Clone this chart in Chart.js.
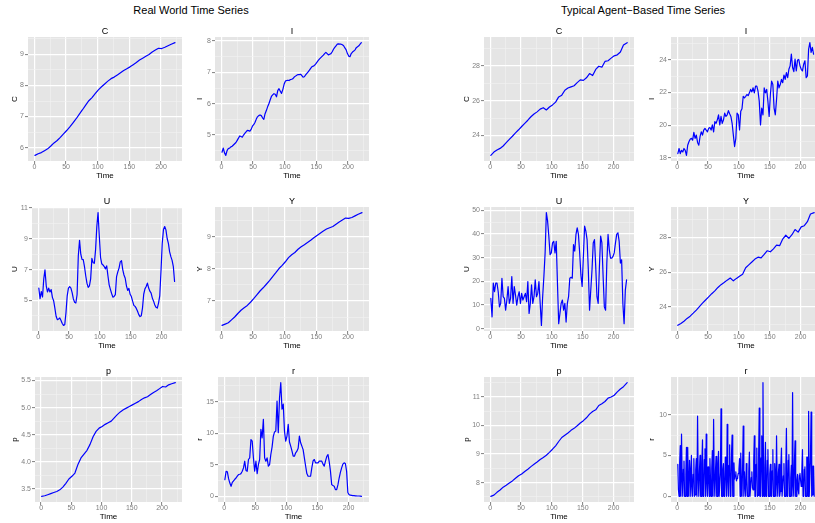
<!DOCTYPE html>
<html>
<head>
<meta charset="utf-8">
<script src="https://cdn.jsdelivr.net/npm/chart.js@4.4.1/dist/chart.umd.min.js"></script>
<style>
  html, body { margin: 0; padding: 0; background: #fff; overflow: hidden; width: 815px; height: 523px; }
  body { position: relative; font-family: "Liberation Sans", Arial, sans-serif; }
  canvas { position: absolute; }
  .main { position: absolute; top: 3px; font-size: 11px; line-height: 14px; color: #000;
          white-space: nowrap; transform: translateX(-50%); }
</style>
</head>
<body>
<div class="main" style="left:191px">Real World Time Series</div>
<div class="main" style="left:643px">Typical Agent&#8722;Based Time Series</div>
<script>
// ---- Time index (quarters) ----
const tQ5 = [1,6,11,16,21,26,31,36,41,46,51,56,61,66,71,76,81,86,91,96,
  101,106,111,116,121,126,131,136,141,146,151,156,161,166,171,176,181,186,191,196,
  201,206,211,216,222];
const tQ2 = [1,3,5,7,9,11,13,15,17,19,21,23,25,27,29,31,33,35,37,39,
  41,43,45,47,49,51,53,55,57,59,61,63,65,67,69,71,73,75,77,79,
  81,83,85,87,89,91,93,95,97,99,101,103,105,107,109,111,113,115,117,119,
  121,123,125,127,129,131,133,135,137,139,141,143,145,147,149,151,153,155,157,159,
  161,163,165,167,169,171,173,175,177,179,181,183,185,187,189,191,193,195,197,199,
  201,203,205,207,209,211,213,215,217,219,221];
const tQ1 = [1,2,3,4,5,6,7,8,9,10,11,12,13,14,15,16,17,18,19,20,
  21,22,23,24,25,26,27,28,29,30,31,32,33,34,35,36,37,38,39,40,
  41,42,43,44,45,46,47,48,49,50,51,52,53,54,55,56,57,58,59,60,
  61,62,63,64,65,66,67,68,69,70,71,72,73,74,75,76,77,78,79,80,
  81,82,83,84,85,86,87,88,89,90,91,92,93,94,95,96,97,98,99,100,
  101,102,103,104,105,106,107,108,109,110,111,112,113,114,115,116,117,118,119,120,
  121,122,123,124,125,126,127,128,129,130,131,132,133,134,135,136,137,138,139,140,
  141,142,143,144,145,146,147,148,149,150,151,152,153,154,155,156,157,158,159,160,
  161,162,163,164,165,166,167,168,169,170,171,172,173,174,175,176,177,178,179,180,
  181,182,183,184,185,186,187,188,189,190,191,192,193,194,195,196,197,198,199,200,
  201,202,203,204,205,206,207,208,209,210,211,212,213,214,215,216,217,218,219,220,
  221,222];

// ---- Real world series ----
const realC = [5.75,5.80,5.84,5.90,5.96,6.05,6.15,6.23,6.33,6.44,
  6.55,6.67,6.80,6.93,7.08,7.22,7.37,7.51,7.61,7.74,
  7.86,7.96,8.05,8.14,8.22,8.27,8.34,8.41,8.48,8.54,
  8.60,8.67,8.74,8.82,8.88,8.94,9.00,9.08,9.14,9.20,
  9.19,9.23,9.28,9.33,9.38];
const realI = [4.45,4.58,4.43,4.35,4.50,4.57,4.58,4.62,4.64,4.68,
  4.72,4.76,4.83,4.90,4.97,4.95,4.93,5.00,5.05,5.10,
  5.15,5.14,5.12,5.18,5.28,5.33,5.40,5.50,5.58,5.62,
  5.64,5.62,5.55,5.50,5.68,5.78,5.90,6.00,6.12,6.23,
  6.28,6.32,6.30,6.22,6.42,6.48,6.40,6.33,6.45,6.62,
  6.72,6.74,6.75,6.74,6.77,6.78,6.80,6.85,6.88,6.91,
  6.93,6.93,6.94,6.90,6.85,6.86,6.92,6.97,7.02,7.07,
  7.13,7.18,7.20,7.22,7.27,7.33,7.38,7.43,7.47,7.51,
  7.55,7.60,7.64,7.60,7.56,7.58,7.60,7.66,7.74,7.80,
  7.85,7.90,7.91,7.90,7.90,7.88,7.85,7.78,7.72,7.60,
  7.52,7.50,7.60,7.65,7.68,7.72,7.79,7.82,7.85,7.90,
  7.95];
const realU = [5.80,5.12,5.58,5.22,6.40,6.98,5.95,5.55,5.80,5.55,
  5.70,5.20,4.98,4.50,3.97,3.75,3.80,3.86,3.69,3.50,
  3.38,3.42,4.20,5.30,5.80,5.90,5.80,5.50,5.10,4.88,
  4.83,5.37,7.90,8.90,8.00,7.67,7.65,7.20,6.60,6.12,
  5.85,5.95,6.40,7.73,7.45,7.41,8.30,9.80,10.70,9.20,
  7.80,7.38,7.30,7.20,7.05,7.24,6.60,6.01,5.72,5.45,
  5.21,5.26,5.37,6.55,6.85,7.10,7.50,7.58,7.00,6.65,
  6.44,5.95,5.65,5.78,5.40,5.25,4.95,4.68,4.61,4.48,
  4.30,4.08,3.95,4.00,4.50,5.40,5.75,5.90,6.12,5.80,
  5.60,5.47,5.15,4.95,4.70,4.55,4.50,4.83,5.30,6.90,
  8.70,9.60,9.80,9.58,9.02,8.70,8.15,7.84,7.60,7.20,
  6.23];
const realY = [6.24,6.28,6.32,6.41,6.50,6.61,6.71,6.79,6.86,6.96,
  7.07,7.19,7.31,7.41,7.52,7.63,7.76,7.88,8.01,8.11,
  8.22,8.35,8.44,8.51,8.61,8.69,8.75,8.82,8.89,8.97,
  9.04,9.11,9.18,9.24,9.28,9.32,9.39,9.46,9.52,9.58,
  9.57,9.60,9.65,9.70,9.75];
const realP = [3.36,3.37,3.39,3.41,3.43,3.45,3.48,3.53,3.60,3.68,
  3.73,3.79,3.95,4.07,4.14,4.21,4.32,4.46,4.56,4.62,
  4.65,4.69,4.72,4.75,4.81,4.87,4.92,4.96,4.99,5.02,
  5.05,5.08,5.11,5.15,5.18,5.20,5.24,5.28,5.31,5.35,
  5.39,5.38,5.42,5.44,5.46];
const realR = [2.65,3.97,3.87,2.80,2.10,1.59,2.20,2.45,2.70,2.90,
  3.20,3.45,3.50,3.60,3.97,4.50,5.56,4.10,3.97,5.83,
  6.09,9.00,8.74,6.09,3.97,5.56,3.60,5.03,5.83,10.60,
  9.27,12.19,6.09,5.56,6.09,4.77,5.03,6.62,7.80,9.50,
  10.20,10.33,15.10,10.07,15.60,18.00,13.80,14.60,10.30,8.74,
  9.54,11.40,8.60,7.95,7.20,6.36,6.36,6.89,7.15,7.60,
  9.54,8.48,7.95,7.40,6.09,4.80,3.60,3.18,3.18,3.18,
  4.50,5.60,5.83,5.30,5.30,5.30,5.56,5.56,5.56,5.10,
  4.77,5.56,6.30,6.62,5.50,3.97,1.85,1.70,1.59,1.06,
  1.06,1.80,2.90,3.80,4.50,5.10,5.30,5.20,3.97,0.60,
  0.26,0.18,0.16,0.12,0.11,0.08,0.06,0.05,0.05,0.04,
  0.00];

// ---- Agent-based model series ----
const abmC = [22.86,23.05,23.17,23.26,23.40,23.59,23.78,23.96,24.15,24.33,
  24.52,24.70,24.88,25.08,25.24,25.36,25.52,25.60,25.47,25.64,
  25.76,25.92,26.22,26.32,26.60,26.73,26.80,26.86,27.04,27.20,
  27.17,27.32,27.56,27.45,27.80,27.98,27.93,28.26,28.30,28.45,
  28.58,28.64,28.80,29.20,29.34];
const abmI = [18.27,18.58,18.27,18.47,18.37,18.58,18.47,18.16,18.78,18.99,
  19.15,19.20,19.09,19.57,19.20,19.40,18.95,18.78,19.30,19.60,
  19.40,19.71,19.81,19.70,19.60,19.81,19.86,19.71,20.02,19.60,
  20.23,20.12,20.33,20.64,20.02,20.54,20.12,20.33,20.74,20.54,
  20.64,20.89,20.70,20.54,20.12,19.40,18.70,19.20,20.74,20.64,
  19.71,20.85,21.01,21.77,21.67,21.77,21.88,21.81,21.98,22.19,
  22.04,22.29,21.98,22.39,22.39,22.08,21.46,20.02,21.05,20.64,
  22.29,21.98,22.19,21.46,20.54,21.88,22.70,22.49,21.05,20.64,
  21.57,22.70,22.29,22.49,22.80,22.60,23.07,22.80,23.22,22.91,
  23.42,23.63,24.35,23.53,23.28,24.04,23.32,23.98,24.02,23.63,
  23.42,23.32,23.73,23.94,22.91,23.01,24.66,25.05,24.45,24.76,
  24.35];
const abmU = [12.8,5.0,19.2,15.6,19.2,19.2,15.6,9.2,10.7,21.3,
  13.5,12.8,7.8,12.1,17.8,10.7,12.8,22.0,10.7,17.8,
  14.2,9.9,13.5,15.6,10.7,14.9,12.1,13.5,14.9,11.4,
  19.9,6.4,10.7,18.5,10.7,13.5,20.6,13.5,14.9,19.9,
  10.7,1.4,13.5,22.0,32.0,49.0,45.5,39.1,31.3,32.0,
  36.2,36.9,32.0,36.9,19.2,2.1,6.4,10.7,12.1,7.8,
  10.7,2.8,10.7,13.5,21.3,21.7,21.3,35.5,32.7,39.8,
  42.6,39.8,32.0,22.7,17.8,30.5,43.3,41.2,37.6,24.9,
  7.8,16.3,24.9,36.2,37.6,26.3,13.5,10.7,26.3,39.1,
  36.2,22.0,9.2,7.8,27.7,39.8,33.4,29.8,29.8,30.5,
  32.0,36.2,39.8,40.5,36.9,27.7,29.1,10.7,2.1,16.3,
  20.6];
const abmY = [22.94,23.05,23.18,23.34,23.47,23.64,23.82,24.02,24.22,24.40,
  24.58,24.76,24.92,25.12,25.28,25.40,25.54,25.66,25.50,25.64,
  25.76,25.88,26.25,26.42,26.58,26.75,26.86,26.82,27.02,27.23,
  27.17,27.34,27.55,27.52,27.90,28.12,27.94,28.15,28.45,28.30,
  28.60,28.67,28.90,29.34,29.42];
const abmP = [7.52,7.56,7.66,7.74,7.84,7.91,7.99,8.06,8.15,8.24,
  8.30,8.39,8.47,8.56,8.64,8.72,8.81,8.88,8.96,9.06,
  9.17,9.29,9.44,9.58,9.66,9.74,9.83,9.90,9.99,10.09,
  10.17,10.27,10.40,10.49,10.55,10.70,10.76,10.84,10.96,11.00,
  11.06,11.18,11.28,11.36,11.50];
const abmR = [3.9,0.8,0,4.1,6.2,0,7.6,2.2,0,3.3,
  4.3,0,0,2.6,6.0,0,6.0,2.0,0,4.4,
  3.1,0,5.0,1.5,0,2.7,4.6,0,0.2,3.2,
  4.6,0,9.8,2.4,0,3.0,5.0,0,0,4.0,
  6.9,0,0.3,4.5,5.8,0,7.6,1.8,0,3.6,
  2.7,0,4.6,2.1,0,3.4,5.6,0,9.4,2.2,
  0,3.1,4.9,0,0,4.0,5.5,0,0,2.9,
  10.7,0,0,3.3,4.0,0,0.4,4.8,3.0,0,
  8.8,2.1,0,3.8,6.3,0,0.2,5.1,7.5,0,
  0,4.1,2.1,2.6,3.0,1.9,2.2,2.4,2.8,3.3,
  4.6,0,5.3,1.4,0,3.6,8.6,0,3.0,1.2,
  0,4.0,2.1,0,0,3.0,5.4,0,0,2.3,
  3.0,1.0,0.8,4.3,7.4,0,0,3.9,5.9,0,
  0.1,5.2,10.8,0,0,4.7,7.4,0,13.9,2.0,
  0,3.5,6.6,0,0.3,4.4,5.7,0,0,2.8,
  3.9,0,0,3.1,5.7,0,0,4.0,2.6,0,
  7.4,1.7,0,2.9,3.9,0,0.6,3.8,5.9,0,
  0,2.5,4.0,0,0,3.4,8.3,0,0.2,4.4,
  5.1,0,0,2.2,3.8,0,12.7,1.3,0,4.3,
  6.8,0,0,2.0,2.7,0.8,0.3,2.6,2.8,1.9,
  1.2,3.0,5.7,0,0.5,3.3,3.6,0,0,4.8,
  4.8,0,10.4,0,0,4.9,10.3,0,0.2,3.7,
  3.7,0];

// ---- Axis breaks ----
const xTicks = [0, 50, 100, 150, 200];
const realCTicks = [6, 7, 8, 9];
const realITicks = [5, 6, 7, 8];
const realUTicks = [5, 7, 9, 11];
const realYTicks = [7, 8, 9];
const realPTicks = [3.5, 4.0, 4.5, 5.0, 5.5];
const realRTicks = [0, 5, 10, 15];
const abmCTicks = [24, 26, 28];
const abmITicks = [18, 20, 22, 24];
const abmUTicks = [0, 10, 20, 30, 40, 50];
const abmYTicks = [24, 26, 28];
const abmPTicks = [8, 9, 10, 11];
const abmRTicks = [0, 5, 10];

// ---- Panel layout (page pixels) ----
const ROWS = [{T: 37, B: 161}, {T: 207, B: 331}, {T: 377, B: 502}];
const panels = [
  {name: 'C', t: tQ5, v: realC, ticks: realCTicks, dec: 0, row: 0, ytx: 15,  L: 28,  R: 182},
  {name: 'I', t: tQ2, v: realI, ticks: realITicks, dec: 0, row: 0, ytx: 200, L: 215, R: 369},
  {name: 'C', t: tQ5, v: abmC,  ticks: abmCTicks,  dec: 0, row: 0, ytx: 467, L: 484, R: 634},
  {name: 'I', t: tQ2, v: abmI,  ticks: abmITicks,  dec: 0, row: 0, ytx: 652, L: 671, R: 821},
  {name: 'U', t: tQ2, v: realU, ticks: realUTicks, dec: 0, row: 1, ytx: 15,  L: 32,  R: 182},
  {name: 'Y', t: tQ5, v: realY, ticks: realYTicks, dec: 0, row: 1, ytx: 200, L: 215, R: 369},
  {name: 'U', t: tQ2, v: abmU,  ticks: abmUTicks,  dec: 0, row: 1, ytx: 467, L: 484, R: 634},
  {name: 'Y', t: tQ5, v: abmY,  ticks: abmYTicks,  dec: 0, row: 1, ytx: 652, L: 671, R: 821},
  {name: 'p', t: tQ5, v: realP, ticks: realPTicks, dec: 1, row: 2, ytx: 15,  L: 35,  R: 182},
  {name: 'r', t: tQ2, v: realR, ticks: realRTicks, dec: 0, row: 2, ytx: 200, L: 218, R: 369},
  {name: 'p', t: tQ5, v: abmP,  ticks: abmPTicks,  dec: 0, row: 2, ytx: 467, L: 484, R: 634},
  {name: 'r', t: tQ1, v: abmR,  ticks: abmRTicks,  dec: 0, row: 2, ytx: 652, L: 671, R: 821}
];

const FONT = '"Liberation Sans", Arial, sans-serif';
Chart.defaults.font.family = FONT;

const PANEL_BG = '#E5E5E5';
const GRID_MAJOR = '#FFFFFF';
const GRID_MINOR = '#F2F2F2';
const TICK_GREY = '#7F7F7F';
const TOP_SPACE = 14, X_SPACE = 20, RIGHT_PAD = 2;

// expanded range (5% each side), as ggplot does
function expand(values) {
  const lo = Math.min(...values), hi = Math.max(...values), pad = (hi - lo) * 0.05;
  return [lo - pad, hi + pad];
}
const [xMin, xMax] = expand(tQ1);

// major breaks plus minor breaks halfway between them
function breaksWithMinor(majors, lo, hi) {
  const step = majors[1] - majors[0];
  const out = majors.map(v => ({value: v, isMinor: false}));
  const minors = majors.map(v => v - step / 2).concat([majors[majors.length - 1] + step / 2]);
  minors.forEach(v => out.push({value: v, isMinor: true}));
  return out.filter(t => t.value >= lo && t.value <= hi).sort((a, b) => a.value - b.value);
}

const panelDecor = {
  id: 'panelDecor',
  beforeDraw(chart) {
    const {ctx, chartArea: a} = chart;
    ctx.save();
    ctx.fillStyle = PANEL_BG;
    ctx.fillRect(a.left, a.top, a.right - a.left, a.bottom - a.top);
    ctx.restore();
  },
  afterDraw(chart, args, opts) {
    const {ctx, chartArea: a} = chart;
    ctx.save();
    ctx.font = '9px ' + FONT;
    ctx.fillStyle = '#000';
    ctx.textAlign = 'center';
    ctx.textBaseline = 'middle';
    ctx.fillText(opts.text, (a.left + a.right) / 2, a.top - 5.5);
    ctx.restore();
  }
};

function gridStyle() {
  return {
    color: c => (c.tick && c.tick.isMinor) ? GRID_MINOR : GRID_MAJOR,
    lineWidth: c => (c.tick && c.tick.isMinor) ? 0.6 : 1.2,
    tickColor: c => (c.tick && c.tick.isMinor) ? 'rgba(0,0,0,0)' : TICK_GREY,
    tickLength: 3,
    tickWidth: 1,
    drawTicks: true
  };
}

panels.forEach(p => {
  const row = ROWS[p.row];
  const cx = Math.round(p.ytx - 5);
  const cy = row.T - TOP_SPACE;
  const yw = p.L - cx;
  const cw = p.R - cx + RIGHT_PAD;
  const ch = (row.B - row.T) + TOP_SPACE + X_SPACE;

  const canvas = document.createElement('canvas');
  canvas.width = cw; canvas.height = ch;
  canvas.style.left = cx + 'px'; canvas.style.top = cy + 'px';
  canvas.style.width = cw + 'px'; canvas.style.height = ch + 'px';
  document.body.appendChild(canvas);

  const [yMin, yMax] = expand(p.v);
  const xBreaks = breaksWithMinor(xTicks, xMin, xMax);
  const yBreaks = breaksWithMinor(p.ticks, yMin, yMax);

  new Chart(canvas, {
    type: 'line',
    data: {
      datasets: [{
        data: p.t.map((t, i) => ({x: t, y: p.v[i]})),
        borderColor: '#0000FF',
        borderWidth: 1.2,
        pointRadius: 0,
        tension: 0,
        fill: false,
        borderJoinStyle: 'round',
        borderCapStyle: 'round'
      }]
    },
    options: {
      responsive: false,
      animation: false,
      devicePixelRatio: 1,
      layout: {padding: {top: TOP_SPACE, right: RIGHT_PAD, left: 0, bottom: 0}},
      plugins: {
        legend: {display: false},
        tooltip: {enabled: false},
        panelDecor: {text: p.name}
      },
      scales: {
        x: {
          type: 'linear',
          min: xMin, max: xMax,
          afterBuildTicks: s => { s.ticks = xBreaks.map(b => ({...b})); },
          afterFit: s => { s.height = X_SPACE; },
          border: {display: false},
          grid: gridStyle(),
          ticks: {
            autoSkip: false, maxRotation: 0, padding: 0,
            color: TICK_GREY, font: {size: 7, lineHeight: 1},
            callback: (v, i, ticks) => ticks[i].isMinor ? '' : String(v)
          },
          title: {display: true, text: 'Time', color: '#000', padding: 0,
                  font: {size: 8, lineHeight: 1.2}}
        },
        y: {
          type: 'linear',
          min: yMin, max: yMax,
          afterBuildTicks: s => { s.ticks = yBreaks.map(b => ({...b})); },
          afterFit: s => { s.width = yw; },
          border: {display: false},
          grid: gridStyle(),
          ticks: {
            autoSkip: false, padding: 1,
            color: TICK_GREY, font: {size: 7, lineHeight: 1},
            callback: (v, i, ticks) => ticks[i].isMinor ? '' : Number(v).toFixed(p.dec)
          },
          title: {display: true, text: p.name, color: '#000', padding: 0,
                  font: {size: 8, lineHeight: 1.2}}
        }
      }
    },
    plugins: [panelDecor]
  });
});
</script>
</body>
</html>
